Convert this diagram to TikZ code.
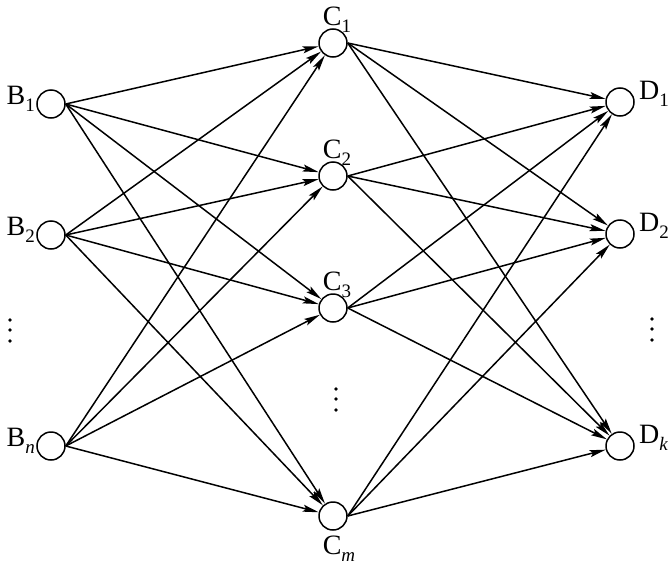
\documentclass[tikz,border=0pt]{standalone}
\usepackage{fontspec}
\setmainfont{Liberation Serif}
\usetikzlibrary{arrows.meta}
\newcommand{\lsub}[1]{\raisebox{-0.28em}{\fontsize{19}{19}\selectfont #1}}
\tikzset{
  neuron/.style={circle,draw,line width=1.5pt,minimum size=28pt,inner sep=0pt},
  lbl/.style={font=\fontsize{28}{30}\selectfont,inner sep=0pt},
  conn/.style={line width=1.5pt,-{Stealth[length=16pt,width=7pt,inset=3pt]}},
  dotmark/.style={fill=black,draw=none}
}
\begin{document}
\begin{tikzpicture}[x=1pt,y=-1pt]
\useasboundingbox (0,0) rectangle (672,565);
% nodes
\node[neuron] (B1) at (51,104) {};
\node[neuron] (B2) at (51,235) {};
\node[neuron] (Bn) at (51,446) {};
\node[neuron] (C1) at (333,43) {};
\node[neuron] (C2) at (333,176) {};
\node[neuron] (C3) at (333,308) {};
\node[neuron] (Cm) at (333,516) {};
\node[neuron] (D1) at (620,102) {};
\node[neuron] (D2) at (620,234) {};
\node[neuron] (Dk) at (620,446) {};
% labels
\node[lbl,anchor=base east] (lB1) at (35,104) {B\lsub{1}};
\node[lbl,anchor=base east] (lB2) at (35,235) {B\lsub{2}};
\node[lbl,anchor=base east] (lBn) at (35,446) {B\lsub{\itshape n}};
\node[lbl,anchor=base] (lC1) at (337,25) {C\lsub{1}};
\node[lbl,anchor=base] (lC2) at (337,158) {C\lsub{2}};
\node[lbl,anchor=base] (lC3) at (337,290) {C\lsub{3}};
\node[lbl,anchor=base] (lCm) at (339,554) {C\lsub{\itshape m}};
\node[lbl,anchor=base west] (lD1) at (639,99) {D\lsub{1}};
\node[lbl,anchor=base west] (lD2) at (639,231) {D\lsub{2}};
\node[lbl,anchor=base west] (lDk) at (639,443) {D\lsub{\itshape k}};
% dots
\foreach \yy in {320,330,341} {
  \fill[dotmark] (10,\yy) circle (1.8);
  \fill[dotmark] (652,\yy-1) circle (1.8);
}
\foreach \yy in {389,399,410} {
  \fill[dotmark] (336,\yy) circle (1.8);
}
% connections
\foreach \b in {B1,B2,Bn} {
  \foreach \c in {C1,C2,C3,Cm} {
    \draw[conn] (\b.east) -- (\c);
  }
}
\foreach \c in {C1,C2,C3,Cm} {
  \foreach \d in {D1,D2,Dk} {
    \draw[conn] (\c.east) -- (\d);
  }
}
\end{tikzpicture}
\end{document}
